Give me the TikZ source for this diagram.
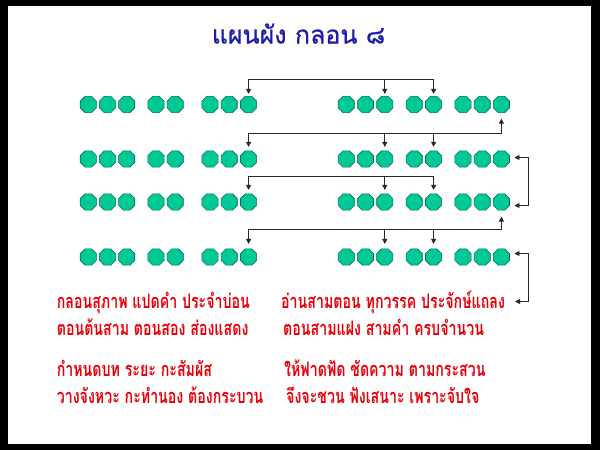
\documentclass[tikz,border=0pt]{standalone}
\usepackage{fontspec}
\usetikzlibrary{shapes.geometric,arrows.meta,calc}
\newfontfamily\titlefont[Script=Thai,FakeBold=0.8]{Loma}
\newfontfamily\poemfont[Script=Thai,FakeStretch=0.71]{Loma}
\definecolor{dotfill}{RGB}{0,200,150}
\definecolor{dotline}{RGB}{0,110,80}
\definecolor{titleblue}{RGB}{30,30,165}
\definecolor{poemred}{RGB}{230,0,10}
\definecolor{wirecol}{RGB}{40,40,40}
\begin{document}
\begin{tikzpicture}[x=1pt,y=-1pt,
  dot/.style={regular polygon,regular polygon sides=8,minimum size=17.5pt,inner sep=0pt,outer sep=0pt,fill=dotfill,draw=dotline,line width=0.6pt},
  wire/.style={draw=wirecol,line width=0.9pt},
  arr/.style={wire,-{Triangle[length=5pt,width=5pt]}},
  darr/.style={wire,{Triangle[length=5pt,width=5pt]}-{Triangle[length=5pt,width=5pt]}},
  poem/.style={anchor=base west,inner sep=0pt,text=poemred,font=\poemfont\bfseries\fontsize{20}{23}\selectfont},
  ttl/.style={anchor=base,inner sep=0pt,text=titleblue,font=\titlefont\fontsize{25}{30}\selectfont}]
\fill[black] (0,0) rectangle (600,450);
\fill[white] (7.5,6) rectangle (591,444);
\useasboundingbox (0,0) rectangle (600,450);

\node[ttl] (title) at (298.5,43.5) {แผนผัง กลอน ๘};

% dots
\foreach \r/\y in {1/104.5,2/159,3/202,4/257}{
  \foreach \c/\x in {1/88.3,2/107.5,3/126.7,4/156,5/175.2,6/210,7/229.2,8/248.6,
                     9/346.2,10/365.4,11/384.8,12/414.2,13/433.6,14/463,15/482.2,16/501.4}{
    \node[dot] (r\r c\c) at (\x,\y) {};
  }
}

% bus levels
\coordinate (b1) at (0,79.5);
\coordinate (b2) at (0,133);
\coordinate (b3) at (0,176.7);
\coordinate (b4) at (0,229.5);
\coordinate (brk) at (528.3,0);

% row 1 top bus
\draw[arr,shorten >=2.5pt] (r1c13 |- b1) -- (r1c8 |- b1) -- (r1c8);
\draw[arr,shorten >=2.5pt] (r1c11 |- b1) -- (r1c11);
\draw[arr,shorten >=2.5pt] (r1c13 |- b1) -- (r1c13);

% row 1 -> row 2
\draw[darr,shorten <=6pt,shorten >=4pt] (r1c16) -- (r1c16 |- b2) -- (r2c8 |- b2) -- (r2c8);
\draw[arr,shorten >=4pt] (r2c11 |- b2) -- (r2c11);
\draw[arr,shorten >=4pt] (r2c13 |- b2) -- (r2c13);

% row 2 <-> row 3 bracket
\coordinate (k2) at ($(r2c16.east)+(0,-1.5)$);
\coordinate (k3) at ($(r3c16.east)+(0,3.5)$);
\draw[darr,shorten <=5pt,shorten >=5pt] (k2) -- (k2 -| brk) -- (k3 -| brk) -- (k3);

% row 3 top bus
\draw[arr,shorten >=4pt] (r3c13 |- b3) -- (r3c8 |- b3) -- (r3c8);
\draw[arr,shorten >=4pt] (r3c11 |- b3) -- (r3c11);
\draw[arr,shorten >=4pt] (r3c13 |- b3) -- (r3c13);

% row 3 -> row 4
\draw[darr,shorten <=6.5pt,shorten >=5pt] (r3c16) -- (r3c16 |- b4) -- (r4c8 |- b4) -- (r4c8);
\draw[arr,shorten >=5pt] (r4c11 |- b4) -- (r4c11);
\draw[arr,shorten >=5pt] (r4c13 |- b4) -- (r4c13);

% poem text
\node[poem] (L1) at (56.6,308) {กลอนสุภาพ แปดคำ ประจำบ่อน};
\node[poem] (L2) at (56.6,335) {ตอนต้นสาม ตอนสอง ส่องแสดง};
\node[poem] (L3) at (56.6,376) {กำหนดบท ระยะ กะสัมผัส};
\node[poem] (L4) at (56.6,403) {วางจังหวะ กะทำนอง ต้องกระบวน};
\node[poem] (R1) at (281,308) {อ่านสามตอน ทุกวรรค ประจักษ์แถลง};
\node[poem] (R2) at (283,335) {ตอนสามแฝง สามคำ ครบจำนวน};
\node[poem] (R3) at (284,376) {ให้ฟาดฟัด ชัดความ ตามกระสวน};
\node[poem] (R4) at (286,403) {จึงจะชวน ฟังเสนาะ เพราะจับใจ};

% row 4 -> text bracket
\coordinate (k4) at ($(r4c16.east)+(0,-3.5)$);
\coordinate (k5) at (515,301.5);
\draw[darr,shorten <=5pt] (k4) -- (k4 -| brk) -- (k5 -| brk) -- (k5);
\end{tikzpicture}
\end{document}
